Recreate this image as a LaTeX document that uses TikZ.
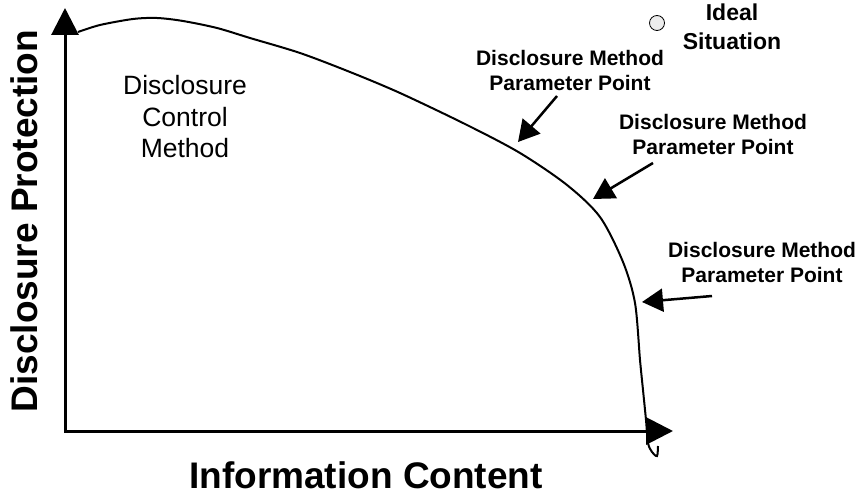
\documentclass[tikz,border=0pt]{standalone}
\usepackage{fontspec}
\setmainfont{Liberation Sans}
\usetikzlibrary{arrows.meta}

\begin{document}
\begin{tikzpicture}[x=1pt,y=-1pt,
    axis/.style={line width=3pt, {Triangle[length=27pt,width=27pt]}-{Triangle[length=27pt,width=27pt]}},
    pointer/.style={line width=2.5pt, -{Triangle[length=21pt,width=23pt]}},
    tag/.style={font=\fontsize{21}{25}\selectfont\bfseries, align=center, inner sep=0pt},
    title/.style={font=\fontsize{37}{37}\selectfont\bfseries, anchor=base, inner sep=0pt}]

\useasboundingbox (0,0) rectangle (861,500);

\coordinate (0) at (65,431);
\coordinate (1) at (65,8);
\coordinate (2) at (673,431);

\draw[axis] (1) -- (0) -- (2);

\draw[line width=2pt] plot[smooth, tension=0.5] coordinates {
    (78,32) (100,25) (133,19) (157,18) (183,21) (217,28) (250,38)
    (300,53) (350,72) (400,93) (467,125) (520,153) (567,185)
    (600,217) (623,262) (635,303) (640,360) (643,390) (646,420)
    (648,443) (652,452) (657,456) (658,446)};

\node[title, rotate=90] (protection) at (37,221) {Disclosure Protection};
\node[title] (content) at (366,488) {Information Content};

\node[align=center, inner sep=0pt, font=\fontsize{26.5}{31.5}\selectfont] (method) at (185,117) {Disclosure\\Control\\Method};

\node[circle, draw, fill=gray!15, minimum size=15pt, inner sep=0pt, line width=0.8pt] (ideal) at (657,23) {};
\node[tag, font=\fontsize{23}{29}\selectfont\bfseries] (situation) at (732,27) {Ideal\\Situation};

\node[tag] (p1) at (570,70) {Disclosure Method\\Parameter Point};
\node[tag] (p2) at (713,134) {Disclosure Method\\Parameter Point};
\node[tag] (p3) at (762,262) {Disclosure Method\\Parameter Point};

\coordinate (s1) at (557,96);
\coordinate (s2) at (653,163);
\coordinate (s3) at (712,296);
\coordinate (t1) at (518,142);
\coordinate (t2) at (593,199);
\coordinate (t3) at (642,302);

\foreach \i in {1,2,3}
    \draw[pointer] (s\i) -- (t\i);

\end{tikzpicture}
\end{document}
